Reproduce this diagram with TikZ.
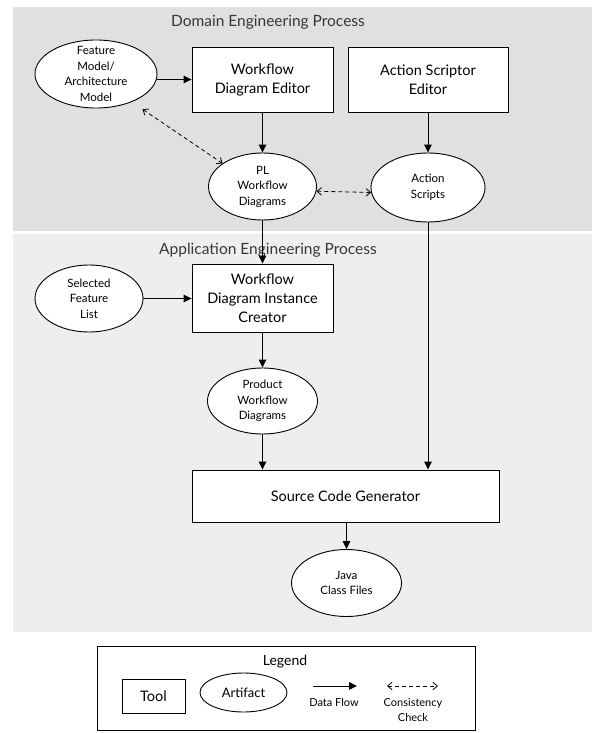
\documentclass[tikz,border=0pt]{standalone}
\usepackage{fontspec}
\setmainfont{Lato}
\usetikzlibrary{shapes.geometric,arrows.meta}
\definecolor{domainbg}{RGB}{224,224,224}
\definecolor{appbg}{RGB}{238,238,238}
\definecolor{titlegray}{RGB}{55,55,55}
\begin{document}
\begin{tikzpicture}[x=1pt,y=-1pt,
  tool/.style={draw, line width=0.9pt, fill=white, rectangle, inner sep=0pt,
    align=center, font=\fontsize{14.5}{19}\selectfont},
  artifact text/.style={align=center, inner sep=0pt, font=\fontsize{11.5}{15.5}\selectfont},
  artifact/.style={draw, line width=0.9pt, fill=white, ellipse, inner sep=0pt,
    label={[artifact text]center:{#1}}},
  flow/.style={line width=1pt, -{Triangle[length=8pt,width=7.5pt]}},
  check/.style={line width=0.8pt, dash pattern=on 4pt off 3pt,
    {Straight Barb[length=4.5pt,width=7.5pt]}-{Straight Barb[length=4.5pt,width=7.5pt]}},
  region title/.style={font=\fontsize{15.5}{17}\selectfont, text=titlegray},
  legend text/.style={align=center, font=\fontsize{11}{15}\selectfont}
]
\useasboundingbox (0,0) rectangle (592,733);

% process regions
\fill[domainbg] (13,7) rectangle (592,231);
\fill[appbg] (13,234) rectangle (592,632);
\node[region title] (domtitle) at (268,22) {Domain Engineering Process};
\node[region title] (apptitle) at (268,250) {Application Engineering Process};

% domain engineering
\node[artifact={Feature\\Model/\\Architecture\\Model}, minimum width=122, minimum height=68] (fm) at (96,74) {};
\node[tool, minimum width=141, minimum height=65] (wde) at (262.5,79.5) {Workflow\\Diagram Editor};
\node[tool, minimum width=160, minimum height=65] (ase) at (428,79.5) {Action Scriptor\\Editor};
\node[artifact={PL\\Workflow\\Diagrams}, minimum width=108, minimum height=67] (pl) at (262.5,186.5) {};
\node[artifact={Action\\Scripts}, minimum width=114, minimum height=69] (as) at (428,187.5) {};

% application engineering
\node[artifact={Selected\\Feature\\List}, minimum width=108, minimum height=67] (sfl) at (89,298.5) {};
\node[tool, minimum width=141, minimum height=68] (wdic) at (262.5,298) {Workflow\\Diagram Instance\\Creator};
\node[artifact={Product\\Workflow\\Diagrams}, minimum width=110, minimum height=66] (pwd) at (262.5,401) {};
\node[tool, minimum width=307, minimum height=52] (scg) at (345.5,496) {Source Code Generator};
\node[artifact={Java\\Class Files}, minimum width=110, minimum height=67] (java) at (346.5,583) {};

% data flow
\draw[flow] (fm.east |- wde) -- (wde.west);
\draw[flow] (wde) -- (pl);
\draw[flow] (ase) -- (as);
\draw[flow] (pl) -- (wdic);
\draw[flow] (sfl.east) -- (sfl.east -| wdic.west);
\draw[flow] (wdic) -- (pwd);
\draw[flow] (pwd.south) -- (pwd.south |- scg.north);
\draw[flow] (as.south) -- (as.south |- scg.north);
\draw[flow] (java.north |- scg.south) -- (java.north);

% consistency checks
\draw[check, shorten <=13pt] (fm.-38) -- (pl.150);
\draw[check] (pl.-5) -- (as.185);

% legend
\node[draw, line width=0.9pt, minimum width=378, minimum height=84, inner sep=0pt] (legend) at (286,688) {};
\node[font=\fontsize{14}{15}\selectfont] (legendtitle) at (285,662) {Legend};
\node[tool, line width=0.8pt, minimum width=63, minimum height=34] (ltool) at (153.5,696) {Tool};
\node[artifact={\fontsize{13}{15}\selectfont Artifact}, minimum width=87, minimum height=39] (lart) at (243.5,692.5) {};
\coordinate (dfa) at (313,686);
\coordinate (dfb) at (357,686);
\draw[flow] (dfa) -- (dfb);
\node[legend text] (dflabel) at (334,702) {Data Flow};
\coordinate (cca) at (387,686);
\coordinate (ccb) at (438,686);
\draw[check] (cca) -- (ccb);
\node[legend text] (cclabel) at (413,710) {Consistency\\Check};
\end{tikzpicture}
\end{document}
